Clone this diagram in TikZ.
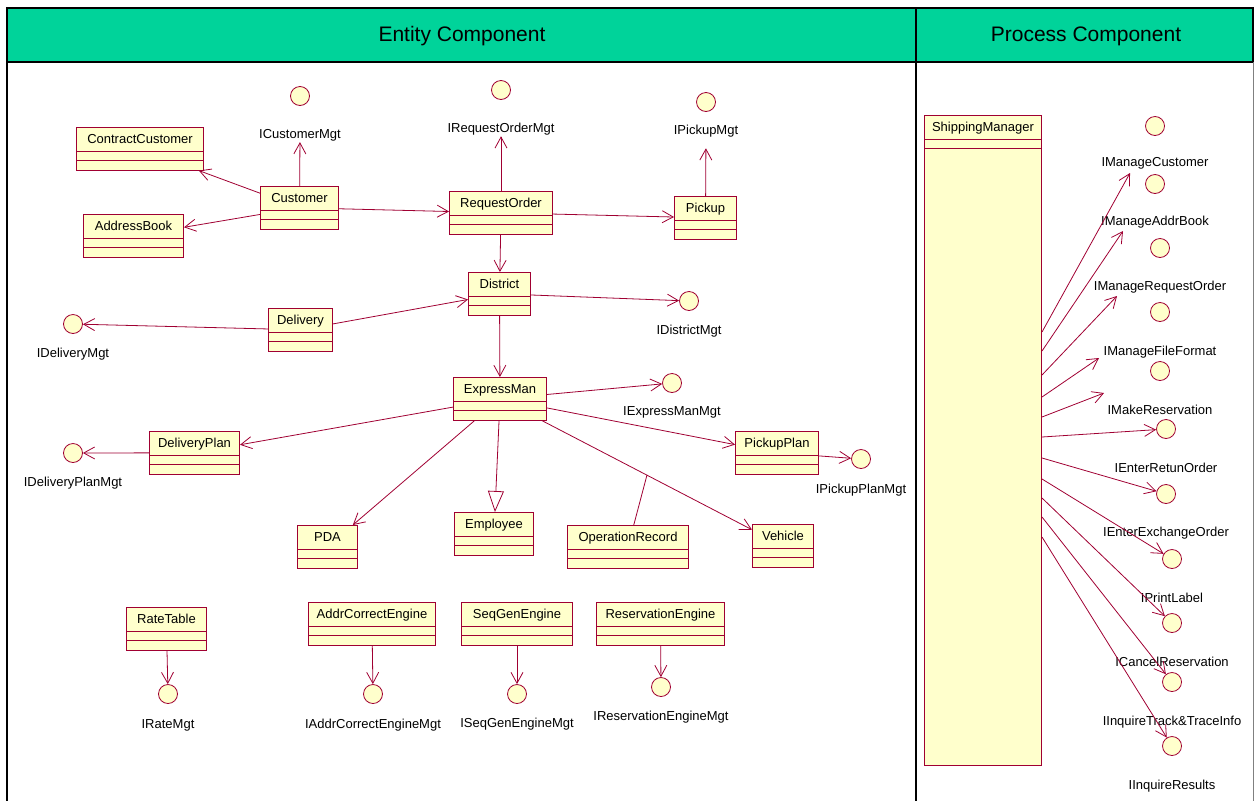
\documentclass[tikz,border=0pt]{standalone}
\usepackage{fontspec}
\setmainfont{Liberation Sans}
\usetikzlibrary{shapes.multipart,arrows.meta}

\definecolor{umlred}{RGB}{160,0,50}
\definecolor{umlfill}{RGB}{255,255,204}
\definecolor{headgreen}{RGB}{0,211,154}

\begin{document}
\begin{tikzpicture}[x=1pt,y=-1pt]
        \tikzstyle{classbox}=[rectangle split, rectangle split parts=3, draw=umlred, fill=umlfill, line width=1pt, anchor=north west, inner xsep=4pt, inner ysep=1.5pt, font=\fontsize{13}{15.6}\selectfont, execute at begin node={\rule[-6pt]{0pt}{20pt}}]
        \tikzstyle{iface}=[circle, draw=umlred, fill=umlfill, line width=0.8pt, minimum size=19pt, inner sep=0pt]
        \tikzstyle{ilabel}=[font=\fontsize{13}{15.6}\selectfont, inner sep=1pt]
        \tikzstyle{dep}=[draw=umlred, line width=0.8pt, -{Straight Barb[length=11pt,width=12pt]}]
        \tikzstyle{gen}=[draw=umlred, line width=0.8pt, -{Triangle[open,length=21pt,width=16pt]}]
        \tikzstyle{assoc}=[draw=umlred, line width=0.8pt]

        \useasboundingbox (0,0) rectangle (1255,801);

        % Frame and headers
        \draw[line width=2pt, fill=headgreen] (7,8) rectangle (1253,62);
        \draw[line width=2pt] (7,62) -- (7,801);
        \draw[line width=2pt] (916,8) -- (916,801);
        \draw[gray, line width=1pt] (1253,62) -- (1253,801);
        \node (enthead) at (462,36) {\fontsize{21}{25}\selectfont Entity Component};
        \node (prochead) at (1086,36) {\fontsize{21}{25}\selectfont Process Component};

        % Classes of the entity component
        \foreach \name/\txt/\x/\y/\w in {ccust/ContractCustomer/76/127/127, cust/Customer/260/186/78,
                addr/AddressBook/83/214/100, ro/RequestOrder/449/191/103, pickup/Pickup/674/196/62,
                district/District/468/272/62, delivery/Delivery/268/308/64, em/ExpressMan/453/377/93,
                dplan/DeliveryPlan/149/431/90, pplan/PickupPlan/735/431/83, pda/PDA/297/525/60,
                emp/Employee/454/512/79, oprec/OperationRecord/567/525/121, vehicle/Vehicle/752/524/61,
                rate/RateTable/126/607/80, ace/AddrCorrectEngine/308/602/127,
                seq/SeqGenEngine/461/602/111, resv/ReservationEngine/596/602/128} {
            \node[classbox, minimum width=\w] (\name) at (\x,\y) {\txt};
        }

        % Interfaces of the entity component
        \foreach \name/\txt/\x/\cy/\ly in {icust/ICustomerMgt/300/96/135, iro/IRequestOrderMgt/501/90/129,
                ipickup/IPickupMgt/706/102/131, idistrict/IDistrictMgt/689/301/331,
                idelivery/IDeliveryMgt/73/324/354, iem/IExpressManMgt/672/383/412,
                idplan/IDeliveryPlanMgt/73/453/483, ipplan/IPickupPlanMgt/861/459/490,
                irate/IRateMgt/168/694/725, iace/IAddrCorrectEngineMgt/373/694/725,
                iseq/ISeqGenEngineMgt/517/694/724, iresv/IReservationEngineMgt/661/687/717} {
            \node[iface] (\name) at (\x,\cy) {};
            \node[ilabel] (l\name) at (\x,\ly) {\txt};
        }

        % Dependencies
        \draw[dep] (cust) -- (ccust);
        \draw[dep] (cust) -- (addr);
        \draw[dep] (cust) -- (ro);
        \draw[dep] (cust) -- (licust);
        \draw[dep] (ro) -- (liro);
        \draw[dep] (ro) -- (pickup);
        \draw[dep, shorten >=10pt] (pickup) -- (lipickup);
        \draw[dep] (ro) -- (district);
        \draw[dep] (district) -- (idistrict);
        \draw[dep] (delivery) -- (district);
        \draw[dep] (delivery) -- (idelivery);
        \draw[dep] (district) -- (em);
        \draw[dep] (em) -- (iem);
        \draw[dep] (em) -- (pplan);
        \draw[dep] (pplan) -- (ipplan);
        \draw[dep] (em) -- (dplan);
        \draw[dep] (dplan) -- (idplan);
        \draw[dep] (em) -- (pda);
        \draw[gen] (em) -- (emp);
        \draw[dep] (em) -- coordinate[pos=0.5] (orlink) (vehicle);
        \draw[assoc] (oprec) -- (orlink);
        \draw[dep] (rate) -- (irate);
        \draw[dep] (ace) -- (iace);
        \draw[dep] (seq) -- (iseq);
        \draw[dep] (resv) -- (iresv);

        % Process component
        \node[classbox, minimum width=117] (sm) at (924,115) {ShippingManager \nodepart{three}\phantom{\rule{1pt}{607pt}}};

        \foreach \n/\cx/\cy/\ly/\txt in {1/1155/126/163/IManageCustomer, 2/1155/184/222/IManageAddrBook,
                3/1160/248/287/IManageRequestOrder, 4/1160/312/352/IManageFileFormat,
                5/1160/371/410/IMakeReservation, 6/1166/429/468/IEnterRetunOrder,
                7/1166/494/533/IEnterExchangeOrder, 8/1172/559/598/IPrintLabel,
                9/1172/623/662/ICancelReservation, 10/1172/682/722/{IInquireTrack\&TraceInfo},
                11/1172/746/786/IInquireResults} {
            \node[iface] (ri\n) at (\cx,\cy) {};
            \node[ilabel] (rl\n) at (\cx,\ly) {\txt};
        }

        \coordinate (tip1) at (1130,173);
        \coordinate (tip2) at (1123,231);
        \coordinate (tip3) at (1117,296);
        \coordinate (tip4) at (1099,358);
        \coordinate (tip5) at (1104,393);

        \foreach \d/\t in {217/tip1, 236/tip2, 260/tip3, 282/tip4, 302/tip5} {
            \draw[dep] ([yshift=-\d pt]sm.north east) -- (\t);
        }
        \foreach \d/\c in {322/6, 343/7, 364/8, 383/9, 402/10, 422/11} {
            \draw[dep] ([yshift=-\d pt]sm.north east) -- (ri\c);
        }
\end{tikzpicture}
\end{document}
